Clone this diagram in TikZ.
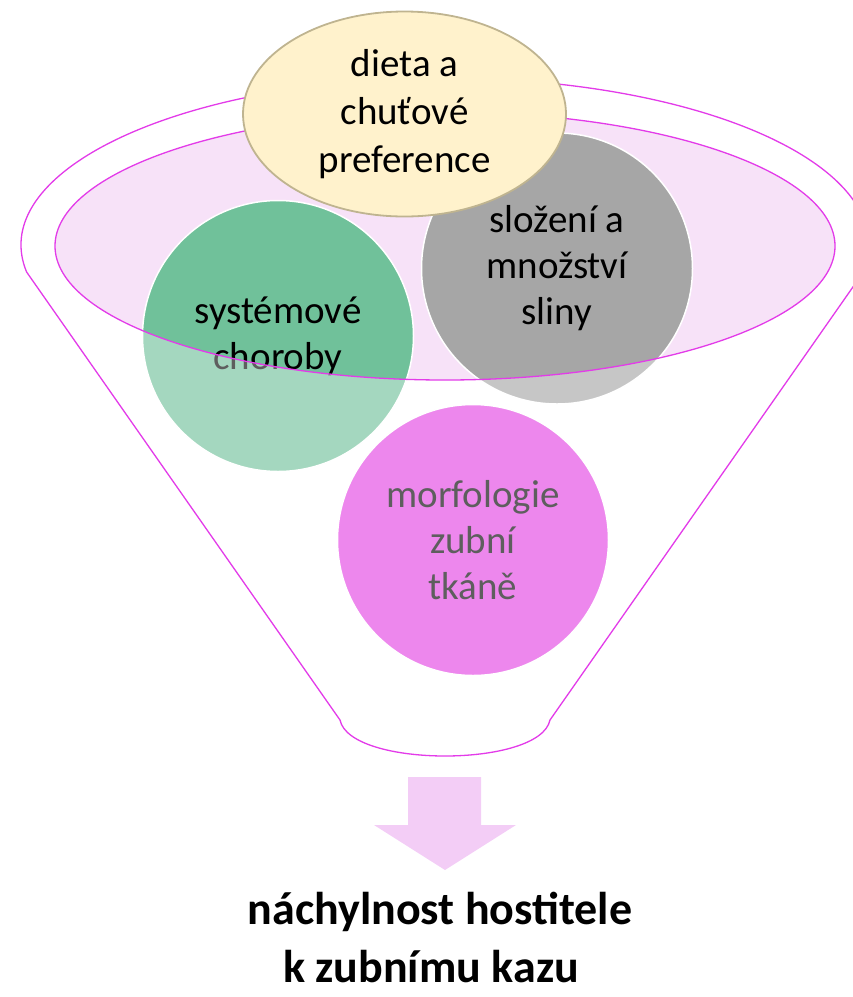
\documentclass[tikz,border=0pt]{standalone}
\usepackage{fontspec}
\setmainfont{Carlito}
\usetikzlibrary{shapes.geometric}

\definecolor{funnelline}{HTML}{E33BE9}
\definecolor{rimfill}{HTML}{F7E2F8}
\definecolor{greenball}{HTML}{70C19A}
\definecolor{grayball}{HTML}{A6A6A6}
\definecolor{pinkball}{HTML}{E442E4}
\definecolor{dietfill}{HTML}{FFF2CC}
\definecolor{dietline}{HTML}{BFB490}
\definecolor{arrowfill}{HTML}{F3CDF6}

\begin{document}
\begin{tikzpicture}[x=1pt,y=-1pt,
  bubble/.style={circle, minimum size=271pt, inner sep=0pt, draw=white,
    line width=1.5pt, align=center, text=black,
    font=\fontsize{39}{46}\selectfont},
  funnelstroke/.style={draw=funnelline, line width=1.3pt},
  resulttext/.style={anchor=base, font=\bfseries\fontsize{46}{56}\selectfont}
]
\useasboundingbox (0,0) rectangle (853,997);
\clip (0,0) rectangle (853,997);

% funnel body and its inner opening
\fill[white] (26.6,272) arc[start angle=170.7, end angle=369.3, x radius=424, y radius=167]
  -- (550,720) .. controls (540,768) and (350,768) .. (340,720) -- cycle;
\fill[rimfill] (445,246) ellipse[x radius=390, y radius=134];

% the factors poured into the funnel
\node[bubble, fill=greenball] (nemoci) at (278,336) {systémové\\choroby};
\node[bubble, fill=grayball] (sliny) at (557,268.5) {složení a\\množství\\sliny};
\node[bubble, fill=pinkball] (zuby) at (473,540) {morfologie\\zubní\\tkáně};

% the funnel wall veils everything below the opening
\fill[white, opacity=0.37, even odd rule]
  (26.6,272) arc[start angle=170.7, end angle=369.3, x radius=424, y radius=167]
  -- (550,720) .. controls (540,768) and (350,768) .. (340,720) -- cycle
  (445,246) ellipse[x radius=390, y radius=134];

% funnel outlines
\draw[funnelstroke] (445,246) ellipse[x radius=390, y radius=134];
\draw[funnelstroke] (26.6,272) arc[start angle=170.7, end angle=369.3, x radius=424, y radius=167]
  -- (550,720) .. controls (540,768) and (350,768) .. (340,720) -- cycle;

% diet on top of the rim
\node[ellipse, minimum width=323pt, minimum height=205pt, inner sep=0pt,
  fill=dietfill, draw=dietline, line width=1.8pt, align=center,
  font=\fontsize{39}{48}\selectfont] (dieta) at (404.5,114) {dieta a\\chuťové\\preference};

% outlet arrow
\fill[arrowfill] (408,777) -- (481,777) -- (481,825) -- (516,825) -- (445,870)
  -- (374,825) -- (408,825) -- cycle;

% result
\node[resulttext] (vysledek1) at (440,924) {náchylnost hostitele};
\node[resulttext] (vysledek2) at (431,982) {k zubnímu kazu};
\end{tikzpicture}
\end{document}
